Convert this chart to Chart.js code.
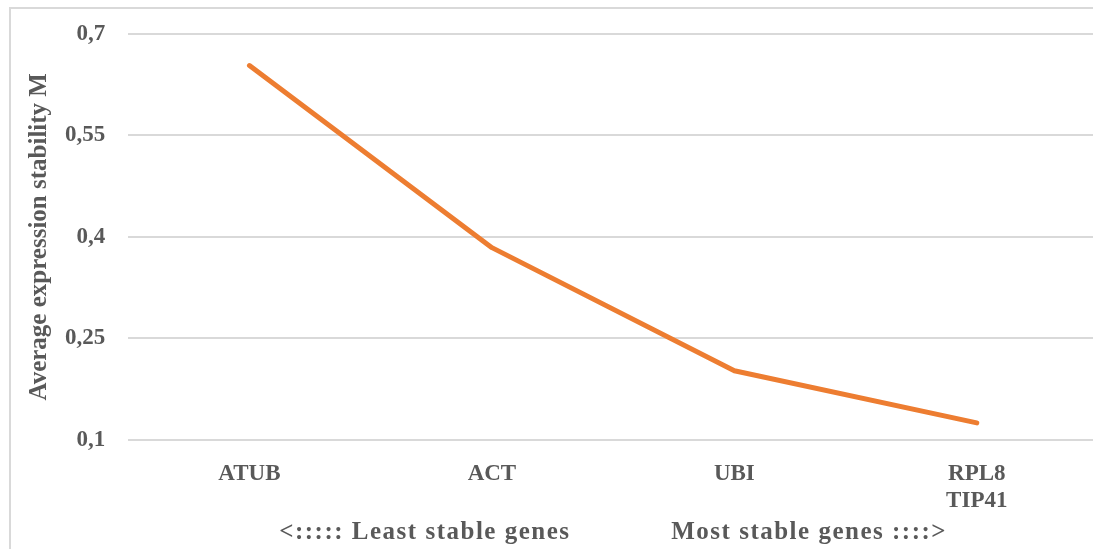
<!DOCTYPE html>
<html>
<head>
<meta charset="utf-8">
<script src="https://cdn.jsdelivr.net/npm/chart.js@4/dist/chart.umd.min.js"></script>
<style>
  html, body { margin: 0; padding: 0; background: #fff; overflow: hidden; }
  body { width: 1093px; height: 549px; position: relative; }
  #wrap {
    position: absolute; left: 9px; top: 7px;
    width: 1091px; height: 542px;
    border-left: 2px solid #d9d9d9; border-top: 2px solid #d9d9d9;
    box-sizing: border-box;
  }
  #inner { position: absolute; left: 0; top: -12px; width: 100%; height: calc(100% + 12px); }
</style>
</head>
<body>
<div id="wrap"><div id="inner"><canvas id="chart"></canvas></div></div>
<script>
// genes ranked from least to most stable
const genes = ['ATUB', 'ACT', 'UBI', ['RPL8', 'TIP41']];
const stabilityM = [0.653, 0.384, 0.202, 0.125];
const yTicks = [0.1, 0.25, 0.4, 0.55, 0.7];

const textColor = '#595959';
const serif = '"Liberation Serif", "Times New Roman", serif';
const tickFont = { family: serif, size: 23, weight: 'bold' };
const titleFont = { family: serif, size: 25, weight: 'bold' };

// the x title in the original is drawn with wider letter spacing
const spacedXTitle = {
    id: 'spacedXTitle',
    beforeDraw(chart) {
        const sc = chart.scales.x;
        if (sc._spaced) return;
        const orig = sc.drawTitle;
        sc.drawTitle = function () {
            const c = this.ctx;
            c.save();
            c.letterSpacing = '1.5px';
            orig.apply(this, arguments);
            c.restore();
        };
        sc._spaced = true;
    }
};

document.addEventListener('DOMContentLoaded', () => {
    const ctx = document.getElementById('chart').getContext('2d');
    new Chart(ctx, {
        type: 'line',
        data: {
            labels: genes,
            datasets: [{
                data: stabilityM,
                borderColor: '#ED7D31',
                borderWidth: 5,
                borderCapStyle: 'round',
                borderJoinStyle: 'round',
                pointRadius: 0,
                tension: 0,
                fill: false
            }]
        },
        plugins: [spacedXTitle],
        options: {
            responsive: true,
            maintainAspectRatio: false,
            animation: false,
            layout: { padding: { top: 0, right: 2, bottom: 1, left: 14 } },
            plugins: {
                legend: { display: false },
                tooltip: { enabled: false }
            },
            scales: {
                x: {
                    offset: true,
                    grid: { display: false, drawTicks: false },
                    border: { display: false },
                    ticks: { color: textColor, font: tickFont, padding: 20, maxRotation: 0, lineHeight: 1.17 },
                    title: {
                        display: true,
                        text: '<::::: Least stable genes             Most stable genes ::::>',
                        color: textColor,
                        font: titleFont,
                        padding: { top: -17, bottom: 0 }
                    }
                },
                y: {
                    min: 0.1,
                    max: 0.7,
                    afterBuildTicks: axis => { axis.ticks = yTicks.map(v => ({ value: v })); },
                    grid: { color: '#d9d9d9', lineWidth: 2, drawTicks: false },
                    border: { display: false },
                    ticks: {
                        color: textColor,
                        font: tickFont,
                        padding: 23,
                        callback: v => String(v).replace('.', ',')
                    },
                    title: {
                        display: true,
                        text: 'Average expression stability M',
                        color: textColor,
                        font: titleFont,
                        padding: { top: 0, bottom: -13 }
                    }
                }
            }
        }
    });
});
</script>
</body>
</html>
